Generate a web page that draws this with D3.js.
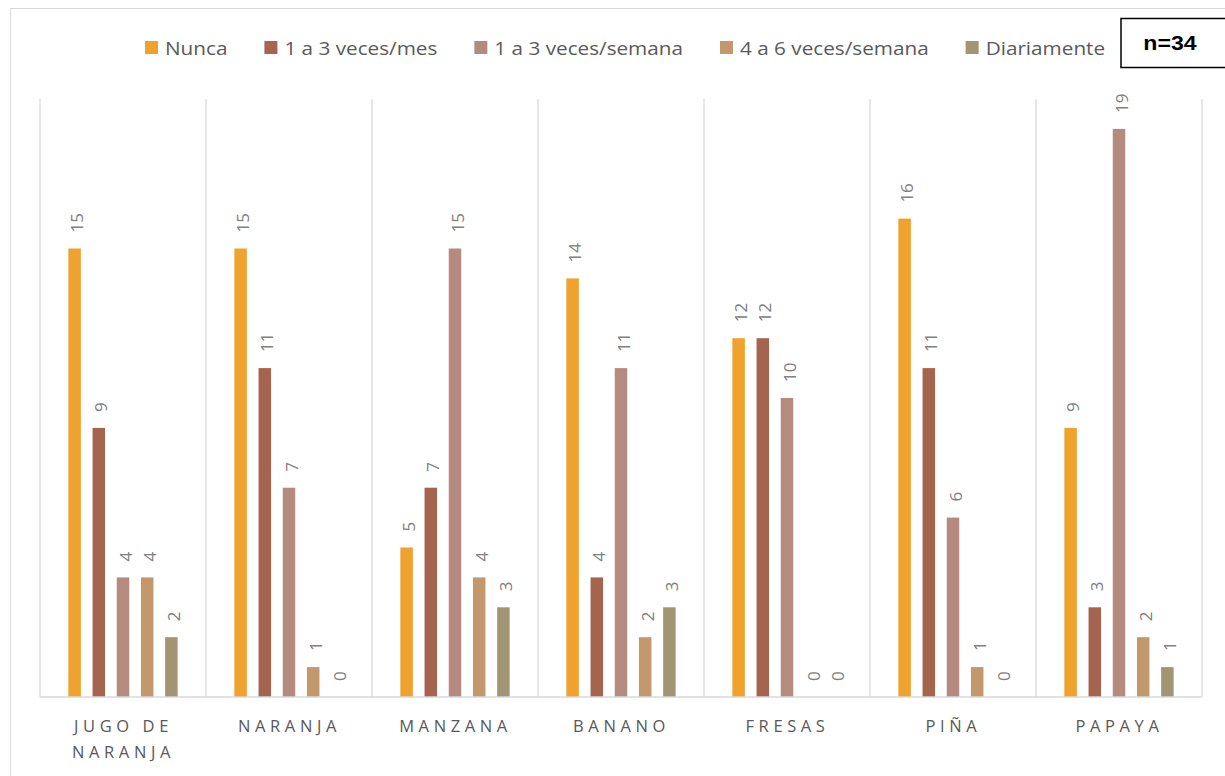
<!DOCTYPE html>
<html>
<head>
<meta charset="utf-8">
<script src="https://cdn.jsdelivr.net/npm/d3@7"></script>
<style>
  body { margin: 0; background: #fff; }
  svg { display: block; font-family: "Open Sans", "Liberation Sans", sans-serif; }
</style>
</head>
<body>
<svg width="1225" height="776"></svg>
<script>
// categories and series
const categories = [["JUGO DE", "NARANJA"], ["NARANJA"], ["MANZANA"], ["BANANO"], ["FRESAS"], ["PIÑA"], ["PAPAYA"]];
const seriesNames = ["Nunca", "1 a 3 veces/mes", "1 a 3 veces/semana", "4 a 6 veces/semana", "Diariamente"];
const seriesColors = ["#F0A22E", "#A5644E", "#B58B80", "#C3986D", "#A19574"];

const nunca      = [15, 15, 5, 14, 12, 16, 9];
const vecesMes   = [9, 11, 7, 4, 12, 11, 3];
const vecesSem   = [4, 7, 15, 11, 10, 6, 19];
const cuatroSeis = [4, 1, 4, 2, 0, 1, 2];
const diario     = [2, 0, 3, 3, 0, 0, 1];
const allSeries = [nunca, vecesMes, vecesSem, cuatroSeis, diario];

const margin = {top: 100, right: 23, bottom: 79, left: 40},
    width = 1225,
    height = 776;

const svg = d3.select("svg");

// outer chart frame
svg.append("rect")
    .attr("x", 10.5).attr("y", 8.5)
    .attr("width", 1230).attr("height", 800)
    .attr("fill", "none")
    .attr("stroke", "#d9d9d9");

const x0 = d3.scaleBand()
    .domain(d3.range(categories.length))
    .range([margin.left, width - margin.right]);

// inner band: step ~24.2px, bar ~12.5px
const x1 = d3.scaleBand()
    .domain(d3.range(seriesNames.length))
    .range([0, 109.3])
    .paddingInner(0.483);

const y = d3.scaleLinear()
    .domain([0, 20])
    .range([height - margin.bottom, margin.top - 1]);

// vertical separators between categories
const g = svg.append("g");
g.selectAll("line.sep")
    .data(d3.range(categories.length + 1))
    .enter().append("line")
    .attr("class", "sep")
    .attr("x1", d => d === categories.length ? x0.range()[1] : x0(d))
    .attr("x2", d => d === categories.length ? x0.range()[1] : x0(d))
    .attr("y1", y(20))
    .attr("y2", y(0))
    .attr("stroke", "#d9d9d9")
    .attr("stroke-width", 1.3);

// bars
const groups = g.selectAll("g.cat")
    .data(categories)
    .enter().append("g")
    .attr("class", "cat")
    .attr("transform", (d, i) => "translate(" + (x0(i) + (x0.bandwidth() - x1.range()[1]) / 2) + ",0)");

groups.each(function (cat, ci) {
    const grp = d3.select(this);
    const vals = allSeries.map((s, si) => ({si: si, v: s[ci]}));
    grp.selectAll("rect")
        .data(vals)
        .enter().append("rect")
        .attr("x", d => x1(d.si))
        .attr("width", x1.bandwidth())
        .attr("y", d => y(d.v))
        .attr("height", d => y(0) - y(d.v))
        .attr("fill", d => seriesColors[d.si]);

    grp.selectAll("text")
        .data(vals)
        .enter().append("text")
        .attr("transform", d => "translate(" + (x1(d.si) + x1.bandwidth() / 2 + 8.5) + "," + (y(d.v) - 16) + ") rotate(-90)")
        .attr("fill", "#808080")
        .attr("font-size", 17)
        .text(d => d.v);
});

// baseline
g.append("line")
    .attr("x1", x0.range()[0]).attr("x2", x0.range()[1])
    .attr("y1", y(0)).attr("y2", y(0))
    .attr("stroke", "#d9d9d9")
    .attr("stroke-width", 1.5);

// category labels
categories.forEach((lines, i) => {
    const cx = x0(i) + x0.bandwidth() / 2;
    const t = svg.append("text")
        .attr("y", y(0) + 35)
        .attr("text-anchor", "middle")
        .attr("fill", "#595959")
        .attr("font-size", 16.5)
        .attr("letter-spacing", 4.6);
    lines.forEach((l, li) => {
        t.append("tspan")
            .attr("x", cx + 0.5)
            .attr("dy", li === 0 ? 0 : 26)
            .text(l);
    });
});

// legend (text is drawn slightly stretched, like the source)
const legend = svg.append("g");
const stretch = 1.12;
let lx = 145;
seriesNames.forEach((name, i) => {
    legend.append("rect")
        .attr("x", lx).attr("y", 41)
        .attr("width", 13).attr("height", 13)
        .attr("fill", seriesColors[i]);
    const t = legend.append("text")
        .attr("transform", "translate(" + (lx + 20) + ",55) scale(" + stretch + ",1)")
        .attr("fill", "#595959")
        .attr("font-size", 18.5)
        .text(name);
    lx += 20 + t.node().getComputedTextLength() * stretch + 37;
});

// n box
svg.append("rect")
    .attr("x", 1121).attr("y", 18.5)
    .attr("width", 110).attr("height", 49)
    .attr("fill", "#fff")
    .attr("stroke", "#000")
    .attr("stroke-width", 1.5);
svg.append("text")
    .attr("transform", "translate(1170,50) scale(1.1,1)")
    .attr("text-anchor", "middle")
    .attr("font-family", "Liberation Sans, Arial, sans-serif")
    .attr("font-weight", "bold")
    .attr("font-size", 21)
    .attr("fill", "#000")
    .text("n=34");
</script>
</body>
</html>
